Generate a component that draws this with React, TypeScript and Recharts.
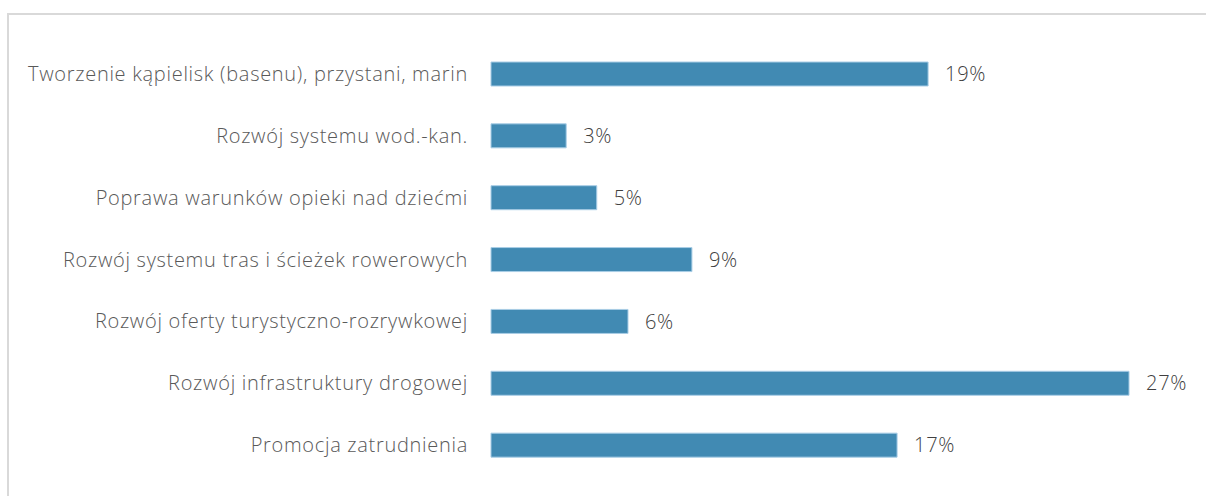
import { BarChart, Bar, XAxis, YAxis, LabelList } from 'recharts'

const categories = [
  'Tworzenie kąpielisk (basenu), przystani, marin',
  'Rozwój systemu wod.-kan.',
  'Poprawa warunków opieki nad dziećmi',
  'Rozwój systemu tras i ścieżek rowerowych',
  'Rozwój oferty turystyczno-rozrywkowej',
  'Rozwój infrastruktury drogowej',
  'Promocja zatrudnienia',
]

const shares = [18.6, 3.2, 4.5, 8.55, 5.83, 27.15, 17.28]

const data = categories.map((name, i) => ({ name, value: shares[i] }))

const font = "'Open Sans', sans-serif"

const App = () => {
  return (
    <div style={{ position: 'fixed', left: 7, top: 13, right: 0, bottom: 0, borderTop: '2px solid #d9d9d9', borderLeft: '2px solid #d9d9d9', background: '#fff' }}>
      <BarChart width={1197} height={481} data={data} layout='vertical' margin={{ top: 28, right: 10, left: 1, bottom: 20 }} barSize={24}>
        <XAxis type='number' domain={[0, 30]} hide />
        <YAxis
          type='category'
          dataKey='name'
          width={481}
          tickLine={false}
          axisLine={false}
          tickSize={0}
          tickMargin={23}
          interval={0}
          tick={{ fill: '#595959', fontSize: 20, fontFamily: font, fontWeight: 300, letterSpacing: 0.7 }}
        />
        <Bar dataKey='value' fill='#418ab3' stroke='#a9cde6' strokeWidth={1} isAnimationActive={false}>
          <LabelList
            dataKey='value'
            position='right'
            offset={17}
            formatter={(v: any) => `${Math.round(Number(v))}%`}
            style={{ fill: '#404040', fontSize: 20, fontFamily: font, fontWeight: 300, letterSpacing: 0.7 }}
          />
        </Bar>
      </BarChart>
    </div>
  )
}

export default App
